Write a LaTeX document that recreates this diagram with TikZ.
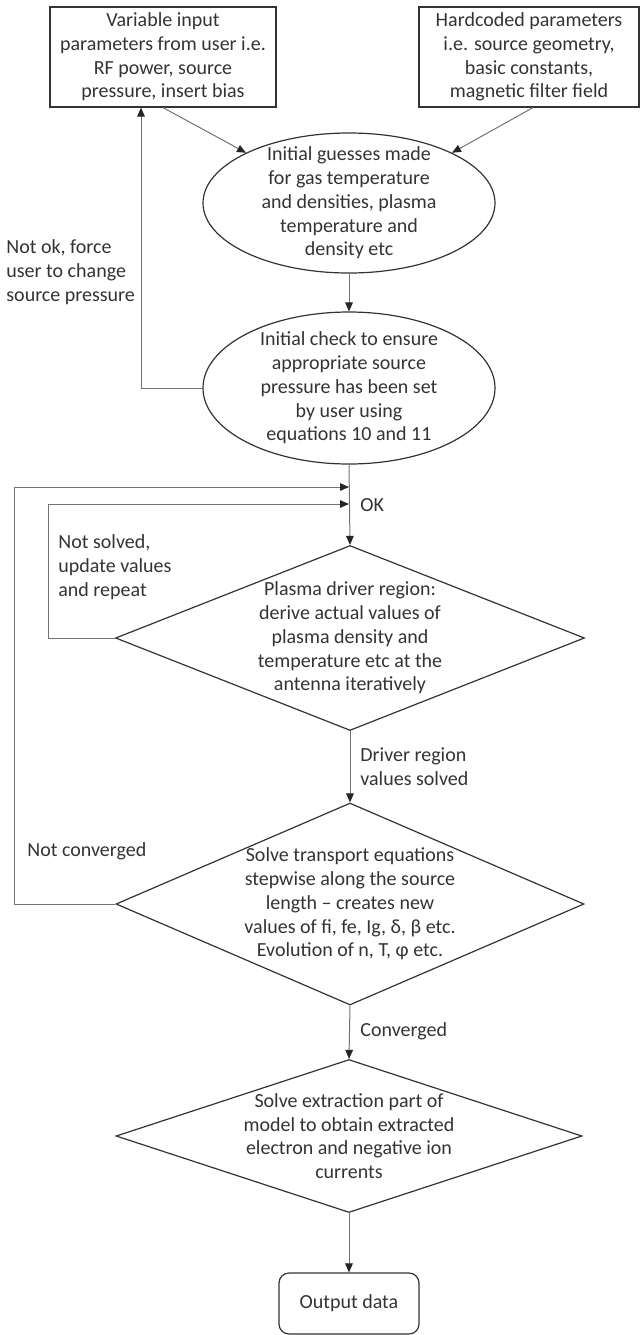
\documentclass[tikz,border=0pt]{standalone}
\usepackage{fontspec}
\setmainfont{Carlito}
\usetikzlibrary{arrows.meta, shapes.geometric, calc}

\tikzset{
  base/.style={draw=black!80, line width=0.6pt, text=black!80, align=center,
    font=\fontsize{10}{11.85}\selectfont},
  inbox/.style={base, rectangle, minimum width=113pt, minimum height=50pt, inner sep=0pt},
  guess/.style={base, ellipse, minimum width=146pt, inner sep=-12pt},
  decide/.style={base, diamond, inner sep=-45pt},
  outbox/.style={base, rectangle, rounded corners=5pt, minimum width=70pt, minimum height=30.5pt},
  flow/.style={draw=black!55, line width=0.5pt,
    -{Triangle[length=4.5pt,width=3.8pt,color=black!85]}},
  note/.style={text=black!80, align=left, inner sep=0pt, font=\fontsize{10}{11.85}\selectfont}
}

\begin{document}
\begin{tikzpicture}[x=0.5pt, y=-0.5pt]
\useasboundingbox (0,0) rectangle (641,1335);

% Inputs
\node[inbox] (userin) at (163,57)
{Variable input\\parameters from user i.e.\\RF power, source\\pressure, insert bias};
\node[inbox, minimum width=110pt] (hardin) at (529,57)
{Hardcoded parameters\\i.e. source geometry,\\basic constants,\\magnetic filter field};

% Initial steps
\node[guess, minimum height=70pt] (guesses) at (349,203)
{Initial guesses made\\for gas temperature\\and densities, plasma\\temperature and\\density etc};
\node[guess, minimum height=76pt] (check) at (349,388)
{Initial check to ensure\\appropriate source\\pressure has been set\\by user using\\equations 10 and 11};

% Decisions
\node[decide, minimum width=234.5pt, minimum height=92.5pt] (driver) at (350,638)
{Plasma driver region:\\derive actual values of\\plasma density and\\temperature etc at the\\antenna iteratively};
\node[decide, minimum width=234pt, minimum height=101pt] (transport) at (350,904)
{Solve transport equations\\stepwise along the source\\length – creates new\\values of fi, fe, Ig, δ, β etc.\\Evolution of n, T, φ etc.};
\node[decide, minimum width=233pt, minimum height=76.5pt] (extract) at (349,1136)
{Solve extraction part of\\model to obtain extracted\\electron and negative ion\\currents};
\node[outbox] (output) at (349,1303.5) {Output data};

% Junctions on the main line
\coordinate (joinA) at (349,487);
\coordinate (joinB) at (349,504);

% Main flow
\draw[flow] (userin.south) -- (guesses.154);
\draw[flow] ($(hardin.south)+(4,0)$) -- (guesses.26);
\draw[flow] (guesses.south) -- (check.north);
\draw[flow] (check.south) -- (driver.north);
\draw[flow] (driver.south) -- (transport.north);
\draw[flow] (transport.south) -- (extract.north);
\draw[flow] (extract.south) -- (output.north);

% Feedback loops
\draw[flow] (check.west) -| ($(userin.south)+(-22,0)$);
\draw[flow] (driver.west) -- ++(-66,0) |- (joinB);
\draw[flow] (transport.west) -- ++(-100.5,0) |- (joinA);

% Labels
\node[note, anchor=west] (notok) at (6,272) {Not ok, force\\user to change\\source pressure};
\node[note, anchor=west] (oklab) at (360,505) {OK};
\node[note, anchor=west] (notsolved) at (58,567) {Not solved,\\update values\\and repeat};
\node[note, anchor=west] (solved) at (360,767) {Driver region\\values solved};
\node[note, anchor=west] (notconv) at (27,851) {Not converged};
\node[note, anchor=west] (conv) at (360,1031) {Converged};
\end{tikzpicture}
\end{document}
